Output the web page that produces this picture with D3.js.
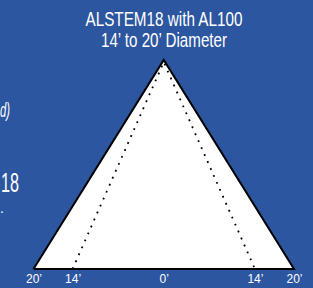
<!DOCTYPE html>
<html><head><meta charset="utf-8">
<script src="https://cdn.jsdelivr.net/npm/d3@7"></script>
<style>html,body{margin:0;padding:0;background:#2c56a0;overflow:hidden}</style>
</head><body>
<script>
const titleLines = ["ALSTEM18 with AL100", "14\u2019 to 20\u2019 Diameter"];
const tickValues = [-20, -14, 0, 14, 20];
const tickLabels = ["20\u2019", "14\u2019", "0\u2019", "14\u2019", "20\u2019"];
const coneNames = ["AL100 20' max", "AL100 14' min"];
const coneHalfWidths = [20, 14];
const coneHeights = [100, 99];
const sideFragments = ["d)", "18", "."];

const W = 313, H = 288, bg = "#2c56a0";
const svg = d3.select("body").append("svg").attr("width", W).attr("height", H);
svg.append("rect").attr("width", W).attr("height", H).attr("fill", bg);

const x = d3.scaleLinear().domain([-20, 20]).range([33.5, 294]);
const y = d3.scaleLinear().domain([0, 100]).range([269, 60]);
const font = "'Liberation Sans Narrow','Arial Narrow','Liberation Sans',Arial,sans-serif";

// title
svg.selectAll("text.title").data(titleLines).enter().append("text")
  .attr("x", 164).attr("y", (d, i) => 26 + i * 21)
  .attr("text-anchor", "middle").attr("fill", "#fff")
  .attr("font-family", font).attr("font-size", 19.5)
  .attr("textLength", (d, i) => i === 0 ? 157 : 126).attr("lengthAdjust", "spacingAndGlyphs")
  .text(d => d);

// side fragments (cut off slide text)
svg.append("text").attr("x", 0).attr("y", 117).attr("fill", "#fff")
  .attr("font-family", font).attr("font-size", 20).attr("font-style", "italic")
  .attr("textLength", 10).attr("lengthAdjust", "spacingAndGlyphs").text(sideFragments[0]);
svg.append("text").attr("x", 1).attr("y", 192).attr("fill", "#fff")
  .attr("font-family", font).attr("font-size", 27)
  .attr("textLength", 18).attr("lengthAdjust", "spacingAndGlyphs").text(sideFragments[1]);
svg.append("text").attr("x", 0).attr("y", 213).attr("fill", "#fff")
  .attr("font-family", font).attr("font-size", 14).text(sideFragments[2]);

const line = d3.line().x(d => x(d[0])).y(d => y(d[1]));
const tri = (hw, h) => [[-hw, 0], [0, h], [hw, 0]];

// outer cone
svg.append("path").datum(tri(coneHalfWidths[0], coneHeights[0]).concat([[-coneHalfWidths[0], 0]]))
  .attr("d", line).attr("fill", "#fff").attr("stroke", "#000")
  .attr("stroke-width", 2).attr("stroke-linejoin", "miter");

// inner dotted cone
svg.append("path").datum(tri(coneHalfWidths[1], coneHeights[1]))
  .attr("d", line).attr("fill", "none").attr("stroke", "#000")
  .attr("stroke-width", 1.8).attr("stroke-dasharray", "1.8,5.8");

// axis labels
const axis = d3.axisBottom(x).tickValues(tickValues).tickFormat((d, i) => tickLabels[i]).tickSize(0).tickPadding(4);
const g = svg.append("g").attr("transform", "translate(0,270)").call(axis);
g.select(".domain").remove();
g.selectAll("text").attr("fill", "#fff").attr("font-family", font).attr("font-size", 12);
</script>
</body></html>
